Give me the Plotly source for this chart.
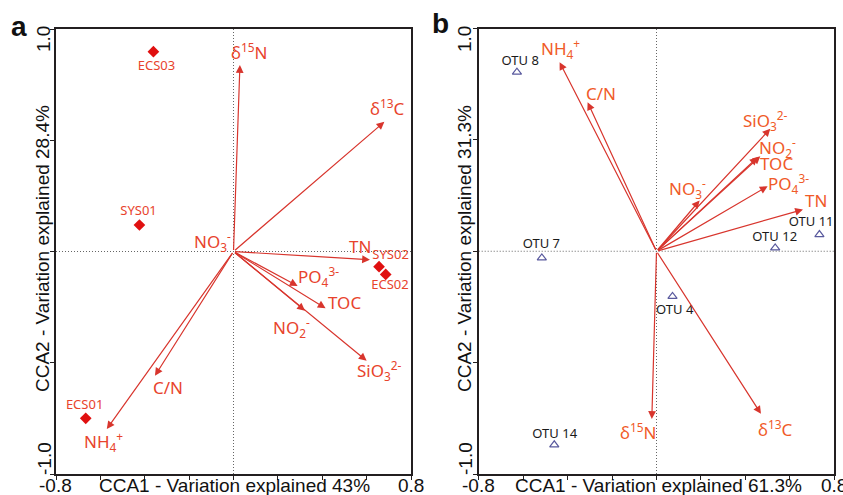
import plotly.graph_objects as go

W, H = 843, 495

# ---------------- Panel a data ----------------
site_names = ["ECS03", "SYS01", "SYS02", "ECS02", "ECS01"]
site_x = [-0.361, -0.424, 0.656, 0.686, -0.666]
site_y = [0.898, 0.119, -0.068, -0.103, -0.750]
site_lab_x = [-0.347, -0.428, 0.708, 0.705, -0.671]
site_lab_y = [0.831, 0.180, -0.020, -0.155, -0.692]

env_a_names = ["δ<sup>15</sup>N", "δ<sup>13</sup>C", "NO<sub>3</sub><sup>-</sup>", "TN",
               "PO<sub>4</sub><sup>3-</sup>", "TOC", "NO<sub>2</sub><sup>-</sup>",
               "SiO<sub>3</sub><sup>2-</sup>", "C/N", "NH<sub>4</sub><sup>+</sup>"]
env_a_x = [0.029, 0.680, -0.012, 0.615, 0.289, 0.415, 0.322, 0.600, -0.354, -0.571]
env_a_y = [0.838, 0.583, 0.006, -0.037, -0.155, -0.255, -0.266, -0.491, -0.558, -0.798]
env_a_lab_x = [0.074, 0.696, -0.095, 0.568, 0.385, 0.502, 0.262, 0.660, -0.295, -0.588]
env_a_lab_y = [0.897, 0.645, 0.047, 0.022, -0.112, -0.227, -0.342, -0.535, -0.611, -0.852]

# ---------------- Panel b data ----------------
otu_names = ["OTU 8", "OTU 7", "OTU 11", "OTU 12", "OTU 4", "OTU 14"]
otu_x = [-0.628, -0.516, 0.733, 0.534, 0.072, -0.460]
otu_y = [0.804, -0.030, 0.075, 0.015, -0.203, -0.869]
otu_lab_x = [-0.613, -0.518, 0.696, 0.532, 0.082, -0.458]
otu_lab_y = [0.850, 0.030, 0.129, 0.059, -0.266, -0.825]

env_b_names = ["NH<sub>4</sub><sup>+</sup>", "C/N", "SiO<sub>3</sub><sup>2-</sup>",
               "NO<sub>2</sub><sup>-</sup>", "TOC", "PO<sub>4</sub><sup>3-</sup>", "TN",
               "NO<sub>3</sub><sup>-</sup>", "δ<sup>15</sup>N", "δ<sup>13</sup>C"]
env_b_x = [-0.436, -0.310, 0.512, 0.455, 0.467, 0.500, 0.659, 0.194, -0.021, 0.470]
env_b_y = [0.849, 0.669, 0.550, 0.422, 0.427, 0.292, 0.187, 0.228, -0.753, -0.730]
env_b_lab_x = [-0.430, -0.249, 0.490, 0.545, 0.539, 0.592, 0.719, 0.140, -0.082, 0.536]
env_b_lab_y = [0.910, 0.708, 0.589, 0.466, 0.392, 0.302, 0.228, 0.282, -0.807, -0.796]

x_tick_vals = [-0.8, -0.6, -0.4, -0.2, 0.0, 0.2, 0.4, 0.6, 0.8]
y_tick_vals = [-1.0, -0.5, 0.0, 0.5, 1.0]

ARROW = "#d8352d"
LAB_A = "#e8432c"
LAB_B = "#f05a28"
SITE = "#e01010"
OTU = "#5a5a9e"
AXFONT = "Liberation Sans, Arial, sans-serif"
LABFONT = "Noto Sans, sans-serif"

fig = go.Figure()

fig.add_trace(go.Scatter(x=site_x, y=site_y, mode="markers", xaxis="x", yaxis="y",
                         marker=dict(symbol="diamond", size=9, color=SITE),
                         showlegend=False, hoverinfo="skip"))
fig.add_trace(go.Scatter(x=site_lab_x, y=site_lab_y, mode="text", text=site_names,
                         xaxis="x", yaxis="y",
                         textfont=dict(family=LABFONT, size=13, color=LAB_A),
                         showlegend=False, hoverinfo="skip"))
fig.add_trace(go.Scatter(x=otu_x, y=otu_y, mode="markers", xaxis="x2", yaxis="y2",
                         marker=dict(symbol="triangle-up-open", size=8, color=OTU,
                                     line=dict(width=1.2, color=OTU)),
                         showlegend=False, hoverinfo="skip"))
fig.add_trace(go.Scatter(x=otu_lab_x, y=otu_lab_y, mode="text", text=otu_names,
                         xaxis="x2", yaxis="y2",
                         textfont=dict(family=LABFONT, size=13, color="#1a1a1a"),
                         showlegend=False, hoverinfo="skip"))

ann = []
for xs, ys, lx, ly, names, xr, yr, col in [
    (env_a_x, env_a_y, env_a_lab_x, env_a_lab_y, env_a_names, "x", "y", LAB_A),
    (env_b_x, env_b_y, env_b_lab_x, env_b_lab_y, env_b_names, "x2", "y2", LAB_B),
]:
    for tx, ty in zip(xs, ys):
        ann.append(dict(x=tx, y=ty, ax=0, ay=0, xref=xr, yref=yr, axref=xr, ayref=yr,
                        text="", showarrow=True, arrowhead=2, arrowsize=1.3,
                        arrowwidth=1.2, arrowcolor=ARROW, standoff=0, startstandoff=0))
    for x, y, t in zip(lx, ly, names):
        ann.append(dict(x=x, y=y, xref=xr, yref=yr, text=t, showarrow=False,
                        font=dict(family=LABFONT, size=17, color=col)))


def P(px, py, text, size=19, angle=0, bold=False, xa="center", ya="middle"):
    ann.append(dict(x=px / W, y=1 - py / H, xref="paper", yref="paper",
                    text=("<b>%s</b>" % text) if bold else text, showarrow=False,
                    textangle=angle, xanchor=xa, yanchor=ya,
                    font=dict(family=AXFONT, size=size, color="#111111")))


# panel a axis texts
P(19, 26, "a", size=28, bold=True)
P(56, 485, "-0.8")
P(411, 485, "0.8")
P(234, 485, "CCA1 - Variation explained 43%")
P(44, 39, "1.0", angle=-90)
P(44, 459, "-1.0", angle=-90)
P(42, 249, "CCA2 - Variation explained 28.4%", angle=-90)
# panel b axis texts
P(440, 24, "b", size=28, bold=True)
P(479, 485, "-0.8")
P(834, 485, "0.8")
P(658, 485, "CCA1 - Variation explained 61.3%")
P(465, 39, "1.0", angle=-90)
P(465, 459, "-1.0", angle=-90)
P(464, 249, "CCA2 - Variation explained 31.3%", angle=-90)

shapes = []
for xr, yr in [("x", "y"), ("x2", "y2")]:
    shapes.append(dict(type="line", xref=xr, yref=yr, x0=0, x1=0, y0=-1, y1=1,
                       line=dict(color="#666666", width=1, dash="1px,2px")))
    shapes.append(dict(type="line", xref=xr, yref=yr, x0=-0.8, x1=0.8, y0=0, y1=0,
                       line=dict(color="#666666", width=1, dash="1px,2px")))

ax_common = dict(showgrid=False, zeroline=False, showline=True, mirror=True,
                 linecolor="#231f20", linewidth=2, ticks="outside", ticklen=4,
                 tickcolor="#231f20", tickwidth=1.2, showticklabels=False)

fig.update_layout(
    width=W, height=H, autosize=False,
    margin=dict(l=0, r=0, t=0, b=0),
    paper_bgcolor="white", plot_bgcolor="white",
    xaxis=dict(domain=[56 / W, 411 / W], range=[-0.8, 0.8], tickvals=x_tick_vals,
               anchor="y", **ax_common),
    yaxis=dict(domain=[1 - 474 / H, 1 - 29 / H], range=[-1, 1], tickvals=y_tick_vals,
               anchor="x", **ax_common),
    xaxis2=dict(domain=[478.7 / W, 834.3 / W], range=[-0.8, 0.8], tickvals=x_tick_vals,
                anchor="y2", **ax_common),
    yaxis2=dict(domain=[1 - 474 / H, 1 - 28.5 / H], range=[-1, 1], tickvals=y_tick_vals,
                anchor="x2", **ax_common),
    annotations=ann, shapes=shapes, showlegend=False,
)

fig.write_html("out.html", config={"displayModeBar": False},
               post_script="document.body.style.margin='0px';"
                           "document.body.style.overflow='hidden';")
